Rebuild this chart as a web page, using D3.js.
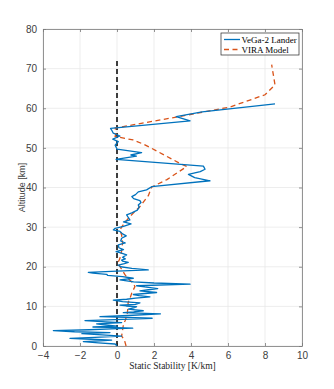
<!DOCTYPE html>
<html>
<head>
<meta charset="utf-8">
<script src="https://cdn.jsdelivr.net/npm/d3@7"></script>
<style>
  body { margin: 0; background: #fff; }
  svg { display: block; }
</style>
</head>
<body>
<svg id="chart" width="334" height="389"></svg>
<script>
// VeGa-2 lander profile (altitude km, static stability K/km)
const vegaAlt = [0.0, 0.5, 0.8, 1.1, 1.3, 1.5, 1.7, 1.9, 2.2, 2.5, 2.8, 3.1, 3.4, 3.6, 3.9, 4.1, 4.3, 4.5, 4.7, 4.8,
  5.0, 5.3, 5.6, 5.9, 6.1, 6.4, 6.7, 7.0, 7.2, 7.4, 7.7, 8.1, 8.4, 8.6, 8.9, 9.3, 9.6, 9.9, 10.1, 10.3,
  10.5, 10.9, 11.2, 11.6, 11.8, 12.1, 12.4, 12.7, 13.0, 13.5, 13.9, 14.2, 14.5, 14.9, 15.2, 15.6, 15.9, 16.2, 16.7, 17.1,
  17.5, 17.8, 18.1, 18.4, 18.6, 18.9, 19.2, 19.6, 20.0, 20.4, 20.8, 21.1, 21.4, 21.7, 22.0, 22.4, 23.0, 23.5, 23.8, 24.3,
  24.8, 25.5, 26.0, 26.5, 27.2, 27.8, 28.3, 28.9, 29.3, 29.7, 30.2, 30.8, 31.3, 31.8, 32.5, 33.1, 33.6, 34.3, 35.0, 35.6,
  36.2, 36.7, 37.2, 37.7, 38.2, 38.9, 39.4, 40.2, 41.7, 42.5, 43.3, 44.0, 44.6, 45.4, 47.1, 47.9, 48.2, 48.8, 49.7, 50.7,
  51.6, 52.2, 53.0, 53.7, 54.5, 54.9, 56.8, 57.9, 59.1, 61.1];
const vegaStab = [0.0, -0.1, -1.0, -1.82, -0.9, -0.29, -1.4, -2.54, -1.2, 0.25, -0.8, -1.9, -0.38, -2.3, -3.44, -1.5, -0.3, 0.85, -0.5, -1.3,
  0.0, -0.6, -1.1, 0.25, -0.6, -1.73, 0.3, 1.9, 0.5, -0.92, 0.6, 2.35, 0.34, 0.9, 1.42, 0.61, 0.9, 1.06, 0.5, 0.16,
  1.0, 1.24, 0.3, -0.2, 0.52, 1.0, 1.78, 1.2, 0.88, 2.14, 1.24, 1.7, 2.2, 1.5, 1.06, 3.95, 2.0, 0.9, 0.16, 0.88,
  0.3, -0.5, -0.56, -1.3, -1.55, 0.0, 1.69, 0.8, 0.2, 0.07, 0.4, 0.61, 0.3, 0.25, 0.45, 0.3, 0.52, 0.2, -0.05, 0.35,
  0.1, 0.07, 0.45, 0.2, 0.25, 0.5, 0.3, 0.16, -0.2, -0.1, 0.35, 0.76, 0.35, 0.7, 0.6, 0.52, 0.8, 1.1, 1.2, 1.15,
  1.3, 1.24, 0.9, 0.8, 1.0, 1.15, 1.6, 1.87, 5.03, 4.2, 3.86, 4.5, 4.76, 4.67, -0.05, 1.05, 0.75, 1.33, 0.0, -0.1,
  0.07, -0.23, 0.16, -0.2, -0.29, -0.35, 3.95, 3.2, 4.6, 8.54];

// VIRA model profile
const viraAlt = [0, 1.5, 2.5, 4, 5.5, 6.5, 8, 10, 11, 12, 13.4, 15, 16, 17, 18, 19, 20, 21, 22, 24,
  26, 28, 29.3, 30, 31, 32.7, 35.2, 38, 40.1, 42, 45.3, 46.1, 49.9, 51, 52, 52.9, 54, 55, 57.7, 60.3,
  63.4, 65.9, 71];
const viraStab = [0.49, 0.4, 0.25, 0.3, 0.35, 0.45, 0.55, 0.6, 0.6, 0.7, 0.8, 0.97, 0.85, 0.6, 0.43, 0.3, 0.16, 0.05, 0.15, 0.25,
  0.3, 0.25, 0.16, 0.25, 0.4, 0.7, 1.24, 1.7, 1.87, 2.7, 3.77, 3.4, 1.87, 1.4, 0.87, -0.1, -0.05, -0.1, 3.13, 6.1,
  8.0, 8.54, 8.36];

// neutral stability reference
const zeroAlt = [0, 72];
const zeroStab = [0, 0];

const xTicks = [-4, -2, 0, 2, 4, 6, 8, 10];
const yTicks = [0, 10, 20, 30, 40, 50, 60, 70, 80];
const seriesNames = ["VeGa-2 Lander", "VIRA Model"];

const margin = { top: 29, right: 32, bottom: 43, left: 43 };
const W = 334, H = 389;
const w = W - margin.left - margin.right;
const h = H - margin.top - margin.bottom;

const svg = d3.select("#chart");
const g = svg.append("g").attr("transform", `translate(${margin.left},${margin.top})`);

const x = d3.scaleLinear().domain([-4, 10]).range([0, w]);
const y = d3.scaleLinear().domain([0, 80]).range([h, 0]);

const axisCol = "#262626";
const sans = "'Liberation Sans', Arial, sans-serif";
const serif = "'Liberation Serif', 'Times New Roman', serif";

// grid
g.append("g").selectAll("line").data(xTicks).join("line")
  .attr("x1", d => x(d)).attr("x2", d => x(d)).attr("y1", 0).attr("y2", h)
  .attr("stroke", "#e5e5e5").attr("stroke-width", 0.7);
g.append("g").selectAll("line").data(yTicks).join("line")
  .attr("y1", d => y(d)).attr("y2", d => y(d)).attr("x1", 0).attr("x2", w)
  .attr("stroke", "#e5e5e5").attr("stroke-width", 0.7);

// axes (ticks pointing inside)
const xAx = g.append("g").attr("transform", `translate(0,${h})`)
  .call(d3.axisBottom(x).tickValues(xTicks).tickSizeInner(-3).tickSizeOuter(0).tickPadding(6));
const yAx = g.append("g")
  .call(d3.axisLeft(y).tickValues(yTicks).tickSizeInner(-3).tickSizeOuter(0).tickPadding(6));
const xTop = g.append("g")
  .call(d3.axisTop(x).tickValues(xTicks).tickSizeInner(-3).tickSizeOuter(0).tickFormat(""));
const yRight = g.append("g").attr("transform", `translate(${w},0)`)
  .call(d3.axisRight(y).tickValues(yTicks).tickSizeInner(-3).tickSizeOuter(0).tickFormat(""));
[xAx, yAx, xTop, yRight].forEach(a => {
  a.select(".domain").attr("stroke", "#7a7a7a").attr("stroke-width", 0.8);
  a.selectAll(".tick line").attr("stroke", "#7a7a7a").attr("stroke-width", 0.8);
  a.selectAll(".tick text").attr("fill", "#404040").style("font-family", sans).style("font-size", "10px");
});

const line = d3.line().x(d => x(d[0])).y(d => y(d[1]));

// zero line
g.append("path").datum(d3.zip(zeroStab, zeroAlt))
  .attr("d", line).attr("fill", "none")
  .attr("stroke", "#000").attr("stroke-width", 1.5).attr("stroke-dasharray", "5,3");

// VIRA
g.append("path").datum(d3.zip(viraStab, viraAlt))
  .attr("d", line).attr("fill", "none")
  .attr("stroke", "#D95319").attr("stroke-width", 1.3).attr("stroke-dasharray", "5,3.5");

// VeGa-2
g.append("path").datum(d3.zip(vegaStab, vegaAlt))
  .attr("d", line).attr("fill", "none")
  .attr("stroke", "#0072BD").attr("stroke-width", 1.3).attr("stroke-linejoin", "round");

// labels
svg.append("text")
  .attr("x", margin.left + w / 2).attr("y", 369)
  .attr("text-anchor", "middle").attr("fill", axisCol)
  .style("font-family", serif).style("font-size", "9.5px")
  .text("Static Stability [K/km]");
svg.append("text")
  .attr("transform", `translate(25,${margin.top + h / 2}) rotate(-90)`)
  .attr("text-anchor", "middle").attr("fill", "#404040")
  .style("font-family", sans).style("font-size", "9px")
  .text("Altitude [km]");

// legend
const lg = svg.append("g").attr("transform", "translate(221,33)");
lg.append("rect").attr("width", 78).attr("height", 22)
  .attr("fill", "#fff").attr("stroke", "#262626").attr("stroke-width", 0.7);
const styles = [
  { color: "#0072BD", dash: null },
  { color: "#D95319", dash: "5,3.5" }
];
seriesNames.forEach((name, i) => {
  const yy = 6.5 + i * 10;
  lg.append("line").attr("x1", 3).attr("x2", 19).attr("y1", yy).attr("y2", yy)
    .attr("stroke", styles[i].color).attr("stroke-width", 1.3)
    .attr("stroke-dasharray", styles[i].dash);
  lg.append("text").attr("x", 20.5).attr("y", yy + 3.2)
    .attr("fill", "#000").style("font-family", serif).style("font-size", "9px")
    .text(name);
});
</script>
</body>
</html>
